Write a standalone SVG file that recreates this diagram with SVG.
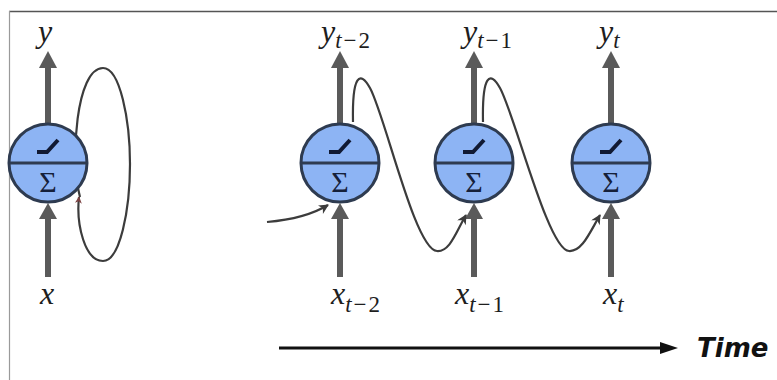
<svg xmlns="http://www.w3.org/2000/svg" width="777" height="380" viewBox="0 0 777 380">
<style>
.body{fill:#8db4f4;stroke:#2e3b50;stroke-width:3}
.div{stroke:#2e3b50;stroke-width:3}
.relu{fill:none;stroke:#111a33;stroke-width:4;stroke-linejoin:miter}
.io{stroke:#5a5a5a;stroke-width:6}
.ioh{fill:#5a5a5a}
.rec{fill:none;stroke:#3c3c3c;stroke-width:2.2}
</style>
<defs>
<marker id="ah" viewBox="0 0 10 10" refX="9" refY="5" markerWidth="11" markerHeight="10" markerUnits="userSpaceOnUse" orient="auto">
<path d="M0,0 L10,5 L0,10 L3,5 z" fill="#3c3c3c"/>
</marker>
<marker id="ahs" viewBox="0 0 10 10" refX="9" refY="5" markerWidth="8" markerHeight="7" markerUnits="userSpaceOnUse" orient="auto">
<path d="M0,0 L10,5 L0,10 L3,5 z" fill="#7a4040"/>
</marker>
<g id="neuron">
<circle class="body" cx="0" cy="0" r="39"/>
<line class="div" x1="-39" y1="0" x2="39" y2="0"/>
<path class="relu" d="M-11,-11 H-1 L10,-23"/>
<text x="0" y="29" font-family="Liberation Serif, serif" font-size="30" fill="#15203a" text-anchor="middle">Σ</text>
</g>
<g id="upio">
<line class="io" x1="0" y1="67" x2="0" y2="125"/>
<polygon class="ioh" points="-9,68 0,51 9,68"/>
<line class="io" x1="0" y1="277" x2="0" y2="218"/>
<polygon class="ioh" points="-9,219 0,203 9,219"/>
</g>
</defs>
<rect x="0" y="0" width="777" height="380" fill="#fff"/>
<line x1="9" y1="11.5" x2="777" y2="11.5" stroke="#555" stroke-width="1.5"/>
<line x1="9.5" y1="11" x2="9.5" y2="380" stroke="#9a9a9a" stroke-width="1.2"/>

<g id="connectors">
<path class="rec" d="M80,197 C70,160 76,68 103,68 C120,68 130,120 130,164 C130,210 120,261 103,261 C85,261 76,225 79,197" marker-end="url(#ahs)"/>
<use href="#upio" x="48"/>
<use href="#upio" x="340"/>
<use href="#upio" x="474"/>
<use href="#upio" x="611"/>
<path class="rec" d="M267,222 C290,220 310,216 328,205" marker-end="url(#ah)"/>
<path class="rec" d="M353,122 C352,75 360,70 370,88 C385,115 415,250 437,251 C450,252 456,232 466,215" marker-end="url(#ah)"/>
<path class="rec" d="M483,122 C482,75 490,70 500,88 C515,115 548,250 569,251 C582,252 590,232 600,215" marker-end="url(#ah)"/>
<line x1="279" y1="348" x2="664" y2="348" stroke="#111" stroke-width="3"/>
<polygon points="660,342 678,348 660,354" fill="#111"/>
</g>

<g id="node-rnn"><use href="#neuron" x="48" y="163"/></g>
<g id="node-t2"><use href="#neuron" x="340" y="163"/></g>
<g id="node-t1"><use href="#neuron" x="474" y="163"/></g>
<g id="node-t"><use href="#neuron" x="611" y="163"/></g>

<g id="labels" font-family="Liberation Serif, serif" font-style="italic" font-size="32" fill="#1e1e1e">
<text x="38" y="42">y</text>
<text x="40" y="304">x</text>
<text x="321" y="42">y<tspan font-size="23" letter-spacing="2" dy="6">t</tspan><tspan font-size="23" letter-spacing="2" font-style="normal">−2</tspan></text>
<text x="463" y="42">y<tspan font-size="23" letter-spacing="2" dy="6">t</tspan><tspan font-size="23" letter-spacing="2" font-style="normal">−1</tspan></text>
<text x="599" y="42">y<tspan font-size="23" dy="6">t</tspan></text>
<text x="331" y="304">x<tspan font-size="23" letter-spacing="2" dy="8">t</tspan><tspan font-size="23" letter-spacing="2" font-style="normal">−2</tspan></text>
<text x="455" y="304">x<tspan font-size="23" letter-spacing="2" dy="8">t</tspan><tspan font-size="23" letter-spacing="2" font-style="normal">−1</tspan></text>
<text x="603" y="304">x<tspan font-size="23" dy="8">t</tspan></text>
<text x="697" y="357" font-family="DejaVu Sans, sans-serif" font-weight="bold" font-size="26" fill="#111">Time</text>
</g>
</svg>
